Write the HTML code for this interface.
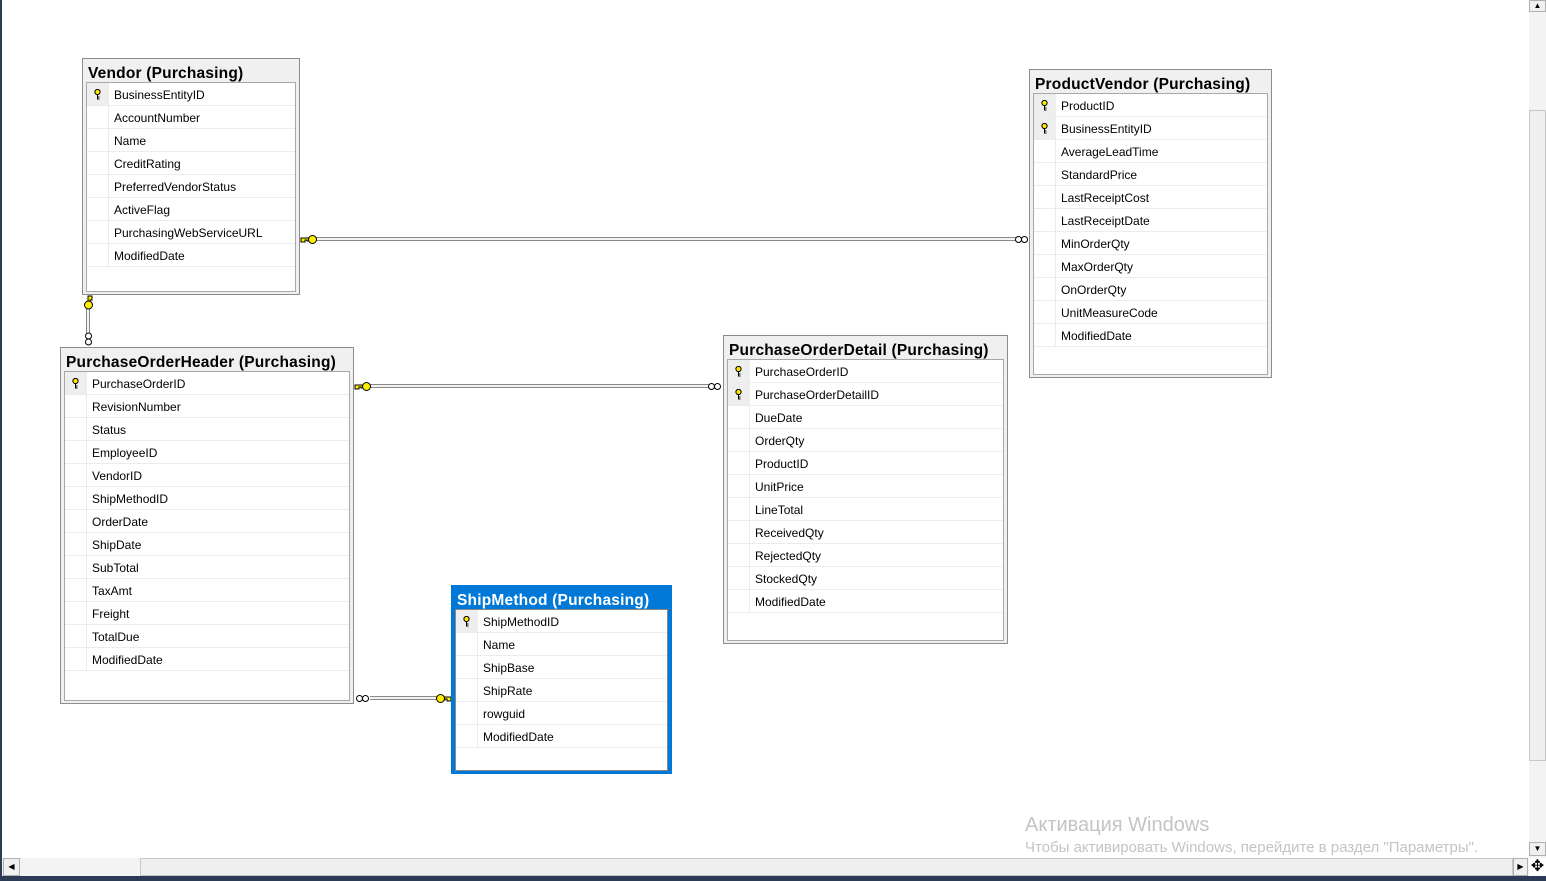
<!DOCTYPE html>
<html><head><meta charset="utf-8"><style>
*{margin:0;padding:0;box-sizing:border-box}
body{width:1546px;height:881px;overflow:hidden;background:#fff;position:relative;font-family:"Liberation Sans",sans-serif;color:#000}
.t{position:absolute;background:#f0f0f0;border:1px solid #8c8c8c}
.tt{position:absolute;left:5px;top:6px;font-weight:bold;font-size:15.5px;line-height:18px;white-space:nowrap;letter-spacing:0.2px}
.in{position:absolute;left:3px;top:23px;right:3px;bottom:2px;background:#fff;border:1px solid #a8a8a8}
.r{position:relative;height:23px;border-bottom:1px solid #ececec;font-size:12px;line-height:24px;padding-left:27px;white-space:nowrap}
.r::before{content:"";position:absolute;left:0;top:0;width:21px;height:22px;border-right:1px solid #ececec}
.k::before{background:#eeeeee}
.k svg{position:absolute;left:7px;top:6px}
.sel{border:2px solid #0078d7;background:#0078d7}
.sel .tt{color:#fff;left:4px;top:5px}
.sel .in{left:2px;top:22px;right:2px;bottom:1px;border-color:#888}
.h{position:absolute;height:4px;border-top:1px solid #8a8a8a;border-bottom:1px solid #8a8a8a;background:#f4f4f4}
.v{position:absolute;width:4px;border-left:1px solid #8a8a8a;border-right:1px solid #8a8a8a;background:#f4f4f4}
svg.c{position:absolute;overflow:visible}
</style></head><body>
<div style="position:absolute;left:0;top:0;width:2px;height:881px;background:#2b3a55"></div>

<div class="h" style="left:316px;top:237px;width:700px"></div>
<div class="h" style="left:370px;top:384px;width:340px"></div>
<div class="h" style="left:370px;top:696px;width:68px"></div>
<div class="v" style="left:86px;top:308px;height:26px"></div>

<svg class="c" style="left:0;top:0" width="1546" height="881">
<g stroke="#000" stroke-width="1" fill="#ffee00">
<path d="M301 238 h8 v3 h-2 v-1 h-2 v2 h-4z"/><circle cx="312.5" cy="239.5" r="4"/>
<path d="M355 385 h8 v3 h-2 v-1 h-2 v2 h-4z"/><circle cx="366.5" cy="386.5" r="4"/>
<path d="M451 697 h-8 v3 h2 v-1 h2 v2 h4z"/><circle cx="440.5" cy="698.5" r="4"/>
<path d="M88 296 v8 h3 v-2 h-1 v-2 h2 v-4z"/><circle cx="88.5" cy="305" r="4"/>
</g>
<g stroke="#000" stroke-width="1" fill="#fff">
<circle cx="1018.5" cy="239.5" r="3"/><circle cx="1024.5" cy="239.5" r="3"/>
<circle cx="711.5" cy="386.5" r="3"/><circle cx="717.5" cy="386.5" r="3"/>
<circle cx="359.5" cy="698.5" r="3"/><circle cx="365.5" cy="698.5" r="3"/>
<circle cx="88.5" cy="336" r="3"/><circle cx="88.5" cy="342" r="3"/>
</g>
</svg>

<div class="t" style="left:82px;top:58px;width:218px;height:237px">
<div class="tt">Vendor (Purchasing)</div>
<div class="in">
<div class="r k"><svg width="7" height="11"><circle cx="3.5" cy="3" r="2.6" fill="#ffe800" stroke="#000"/><path d="M3.5 5v5h2M3.5 8h2" stroke="#000" fill="none"/></svg>BusinessEntityID</div>
<div class="r">AccountNumber</div>
<div class="r">Name</div>
<div class="r">CreditRating</div>
<div class="r">PreferredVendorStatus</div>
<div class="r">ActiveFlag</div>
<div class="r">PurchasingWebServiceURL</div>
<div class="r">ModifiedDate</div>
</div></div>

<div class="t" style="left:1029px;top:69px;width:243px;height:309px">
<div class="tt">ProductVendor (Purchasing)</div>
<div class="in">
<div class="r k"><svg width="7" height="11"><circle cx="3.5" cy="3" r="2.6" fill="#ffe800" stroke="#000"/><path d="M3.5 5v5h2M3.5 8h2" stroke="#000" fill="none"/></svg>ProductID</div>
<div class="r k"><svg width="7" height="11"><circle cx="3.5" cy="3" r="2.6" fill="#ffe800" stroke="#000"/><path d="M3.5 5v5h2M3.5 8h2" stroke="#000" fill="none"/></svg>BusinessEntityID</div>
<div class="r">AverageLeadTime</div>
<div class="r">StandardPrice</div>
<div class="r">LastReceiptCost</div>
<div class="r">LastReceiptDate</div>
<div class="r">MinOrderQty</div>
<div class="r">MaxOrderQty</div>
<div class="r">OnOrderQty</div>
<div class="r">UnitMeasureCode</div>
<div class="r">ModifiedDate</div>
</div></div>

<div class="t" style="left:60px;top:347px;width:294px;height:357px">
<div class="tt">PurchaseOrderHeader (Purchasing)</div>
<div class="in">
<div class="r k"><svg width="7" height="11"><circle cx="3.5" cy="3" r="2.6" fill="#ffe800" stroke="#000"/><path d="M3.5 5v5h2M3.5 8h2" stroke="#000" fill="none"/></svg>PurchaseOrderID</div>
<div class="r">RevisionNumber</div>
<div class="r">Status</div>
<div class="r">EmployeeID</div>
<div class="r">VendorID</div>
<div class="r">ShipMethodID</div>
<div class="r">OrderDate</div>
<div class="r">ShipDate</div>
<div class="r">SubTotal</div>
<div class="r">TaxAmt</div>
<div class="r">Freight</div>
<div class="r">TotalDue</div>
<div class="r">ModifiedDate</div>
</div></div>

<div class="t" style="left:723px;top:335px;width:285px;height:309px">
<div class="tt">PurchaseOrderDetail (Purchasing)</div>
<div class="in">
<div class="r k"><svg width="7" height="11"><circle cx="3.5" cy="3" r="2.6" fill="#ffe800" stroke="#000"/><path d="M3.5 5v5h2M3.5 8h2" stroke="#000" fill="none"/></svg>PurchaseOrderID</div>
<div class="r k"><svg width="7" height="11"><circle cx="3.5" cy="3" r="2.6" fill="#ffe800" stroke="#000"/><path d="M3.5 5v5h2M3.5 8h2" stroke="#000" fill="none"/></svg>PurchaseOrderDetailID</div>
<div class="r">DueDate</div>
<div class="r">OrderQty</div>
<div class="r">ProductID</div>
<div class="r">UnitPrice</div>
<div class="r">LineTotal</div>
<div class="r">ReceivedQty</div>
<div class="r">RejectedQty</div>
<div class="r">StockedQty</div>
<div class="r">ModifiedDate</div>
</div></div>

<div class="t sel" style="left:451px;top:585px;width:221px;height:189px">
<div class="tt">ShipMethod (Purchasing)</div>
<div class="in">
<div class="r k"><svg width="7" height="11"><circle cx="3.5" cy="3" r="2.6" fill="#ffe800" stroke="#000"/><path d="M3.5 5v5h2M3.5 8h2" stroke="#000" fill="none"/></svg>ShipMethodID</div>
<div class="r">Name</div>
<div class="r">ShipBase</div>
<div class="r">ShipRate</div>
<div class="r">rowguid</div>
<div class="r">ModifiedDate</div>
</div></div>

<div style="position:absolute;left:1025px;top:814px;font-size:20px;color:#c4c4c4;white-space:nowrap">Активация Windows</div>
<div style="position:absolute;left:1025px;top:839px;font-size:15px;color:#c4c4c4;white-space:nowrap">Чтобы активировать Windows, перейдите в раздел "Параметры".</div>

<div style="position:absolute;left:1529px;top:0;width:17px;height:858px;background:#f3f3f3"></div>
<div style="position:absolute;left:1529px;top:0;width:17px;height:12px;background:#f0f0f0;border:1px solid #b0b0b0;font-size:8px;text-align:center;line-height:10px">▲</div>
<div style="position:absolute;left:1529px;top:110px;width:17px;height:651px;background:#efefef;border:1px solid #c8c8c8"></div>
<div style="position:absolute;left:1529px;top:842px;width:17px;height:14px;background:#f0f0f0;border:1px solid #b0b0b0;font-size:8px;text-align:center;line-height:12px">▼</div>
<div style="position:absolute;left:2px;top:858px;width:1527px;height:18px;background:#f3f3f3"></div>
<div style="position:absolute;left:3px;top:858px;width:17px;height:18px;background:#f0f0f0;border:1px solid #b0b0b0;font-size:8px;text-align:center;line-height:16px">◀</div>
<div style="position:absolute;left:140px;top:858px;width:1373px;height:18px;background:#efefef;border:1px solid #c8c8c8"></div>
<div style="position:absolute;left:1513px;top:858px;width:15px;height:18px;background:#f0f0f0;border:1px solid #b0b0b0;font-size:8px;text-align:center;line-height:16px">▶</div>
<div style="position:absolute;left:1529px;top:858px;width:17px;height:18px;background:#fff;font-size:16px;text-align:center;line-height:18px">✥</div>
<div style="position:absolute;left:0;top:876px;width:1546px;height:5px;background:#2b3a55"></div>
</body></html>
